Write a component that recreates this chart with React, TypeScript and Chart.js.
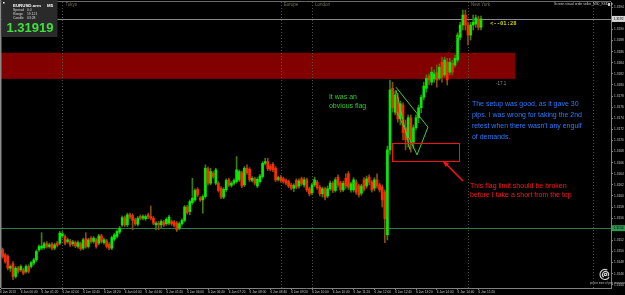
import { useEffect, useRef } from "react";
import { Chart, registerables } from "chart.js";
Chart.register(...registerables);

// ---- data (EURUSD.arm M5) ----
const opens = [
  1.31497,1.31503,1.31494,1.31491,1.31470,1.31478,1.31455,1.31470,1.31467,1.31467,
  1.31464,1.31473,1.31473,1.31479,1.31485,1.31503,1.31506,1.31507,1.31514,1.31509,
  1.31513,1.31506,1.31515,1.31515,1.31528,1.31527,1.31518,1.31519,1.31514,1.31516,
  1.31509,1.31514,1.31506,1.31523,1.31509,1.31524,1.31518,1.31521,1.31515,1.31528,
  1.31516,1.31519,1.31513,1.31506,1.31522,1.31527,1.31535,1.31548,1.31561,1.31548,
  1.31566,1.31565,1.31557,1.31549,1.31563,1.31560,1.31559,1.31566,1.31563,1.31560,
  1.31548,1.31551,1.31548,1.31553,1.31550,1.31551,1.31554,1.31553,1.31551,1.31542,
  1.31550,1.31556,1.31580,1.31572,1.31588,1.31593,1.31612,1.31596,1.31593,1.31599,
  1.31649,1.31623,1.31641,1.31623,1.31623,1.31614,1.31598,1.31611,1.31629,1.31619,
  1.31623,1.31626,1.31629,1.31642,1.31620,1.31650,1.31648,1.31628,1.31631,1.31618,
  1.31626,1.31635,1.31659,1.31662,1.31654,1.31657,1.31650,1.31630,1.31634,1.31631,
  1.31628,1.31626,1.31620,1.31614,1.31628,1.31618,1.31631,1.31620,1.31629,1.31613,
  1.31606,1.31620,1.31625,1.31616,1.31604,1.31613,1.31600,1.31613,1.31623,1.31610,
  1.31634,1.31624,1.31611,1.31632,1.31640,1.31611,1.31611,1.31625,1.31618,1.31605,
  1.31629,1.31618,1.31634,1.31625,1.31614,1.31629,1.31620,1.31616,1.31607,1.31530,
  1.31683,1.31794,1.31751,1.31778,1.31739,1.31764,1.31723,1.31705,1.31741,1.31697,
  1.31723,1.31741,1.31759,1.31778,1.31794,1.31816,1.31805,1.31811,1.31823,1.31812,
  1.31841,1.31818,1.31841,1.31823,1.31839,1.31836,1.31845,1.31886,1.31908,1.31926,
  1.31908,1.31890,1.31908,1.31910,1.31919,1.31904,
];
const highs = [
  1.31512,1.31506,1.31497,1.31494,1.31476,1.31482,1.31473,1.31473,1.31476,1.31470,
  1.31476,1.31476,1.31482,1.31488,1.31503,1.31512,1.31534,1.31517,1.31518,1.31515,
  1.31516,1.31515,1.31518,1.31536,1.31536,1.31530,1.31524,1.31522,1.31520,1.31519,
  1.31519,1.31517,1.31524,1.31534,1.31524,1.31527,1.31527,1.31524,1.31531,1.31531,
  1.31524,1.31522,1.31516,1.31528,1.31533,1.31539,1.31545,1.31564,1.31564,1.31569,
  1.31569,1.31568,1.31560,1.31563,1.31566,1.31566,1.31566,1.31569,1.31582,1.31563,
  1.31554,1.31554,1.31557,1.31556,1.31561,1.31565,1.31557,1.31556,1.31554,1.31553,
  1.31559,1.31583,1.31583,1.31593,1.31632,1.31613,1.31615,1.31599,1.31602,1.31656,
  1.31652,1.31650,1.31644,1.31650,1.31626,1.31617,1.31615,1.31631,1.31632,1.31626,
  1.31631,1.31671,1.31647,1.31645,1.31653,1.31656,1.31651,1.31635,1.31634,1.31633,
  1.31639,1.31662,1.31668,1.31668,1.31657,1.31660,1.31653,1.31636,1.31637,1.31634,
  1.31631,1.31629,1.31623,1.31622,1.31631,1.31631,1.31634,1.31633,1.31632,1.31616,
  1.31623,1.31634,1.31628,1.31619,1.31616,1.31616,1.31618,1.31627,1.31626,1.31633,
  1.31638,1.31627,1.31627,1.31640,1.31644,1.31625,1.31633,1.31629,1.31621,1.31621,
  1.31633,1.31636,1.31638,1.31628,1.31633,1.31640,1.31623,1.31620,1.31611,1.31690,
  1.31809,1.31805,1.31789,1.31785,1.31771,1.31768,1.31737,1.31746,1.31746,1.31728,
  1.31746,1.31764,1.31782,1.31805,1.31818,1.31820,1.31832,1.31827,1.31836,1.31838,
  1.31850,1.31850,1.31848,1.31848,1.31845,1.31854,1.31894,1.31913,1.31935,1.31935,
  1.31913,1.31913,1.31926,1.31926,1.31924,1.31924,
];
const lows = [
  1.31479,1.31488,1.31479,1.31467,1.31464,1.31449,1.31452,1.31461,1.31464,1.31458,
  1.31461,1.31461,1.31470,1.31476,1.31482,1.31500,1.31503,1.31504,1.31506,1.31506,
  1.31503,1.31503,1.31508,1.31512,1.31525,1.31512,1.31515,1.31509,1.31510,1.31507,
  1.31506,1.31502,1.31503,1.31506,1.31506,1.31515,1.31515,1.31506,1.31512,1.31515,
  1.31513,1.31506,1.31503,1.31503,1.31519,1.31524,1.31532,1.31545,1.31545,1.31545,
  1.31559,1.31539,1.31547,1.31546,1.31557,1.31557,1.31556,1.31559,1.31557,1.31548,
  1.31539,1.31539,1.31542,1.31545,1.31547,1.31548,1.31547,1.31544,1.31536,1.31539,
  1.31547,1.31553,1.31567,1.31566,1.31585,1.31590,1.31599,1.31590,1.31569,1.31596,
  1.31620,1.31620,1.31632,1.31620,1.31607,1.31595,1.31595,1.31608,1.31617,1.31616,
  1.31620,1.31623,1.31626,1.31615,1.31617,1.31639,1.31626,1.31625,1.31620,1.31615,
  1.31623,1.31632,1.31656,1.31646,1.31645,1.31644,1.31626,1.31627,1.31625,1.31623,
  1.31620,1.31615,1.31611,1.31608,1.31613,1.31614,1.31619,1.31616,1.31608,1.31600,
  1.31602,1.31617,1.31612,1.31600,1.31598,1.31593,1.31597,1.31610,1.31606,1.31607,
  1.31616,1.31607,1.31608,1.31614,1.31612,1.31607,1.31607,1.31603,1.31598,1.31601,
  1.31609,1.31614,1.31620,1.31607,1.31609,1.31614,1.31607,1.31580,1.31516,1.31521,
  1.31675,1.31751,1.31746,1.31733,1.31728,1.31701,1.31683,1.31688,1.31679,1.31686,
  1.31719,1.31732,1.31750,1.31773,1.31787,1.31800,1.31800,1.31805,1.31796,1.31809,
  1.31805,1.31814,1.31800,1.31818,1.31818,1.31832,1.31841,1.31881,1.31899,1.31899,
  1.31872,1.31881,1.31899,1.31904,1.31899,1.31899,
];
const closes = [
  1.31509,1.31491,1.31482,1.31470,1.31473,1.31455,1.31470,1.31464,1.31473,1.31461,
  1.31473,1.31464,1.31480,1.31485,1.31500,1.31509,1.31510,1.31514,1.31509,1.31512,
  1.31506,1.31512,1.31511,1.31533,1.31532,1.31515,1.31521,1.31512,1.31517,1.31510,
  1.31516,1.31505,1.31521,1.31509,1.31521,1.31518,1.31524,1.31509,1.31528,1.31518,
  1.31521,1.31509,1.31506,1.31525,1.31530,1.31536,1.31542,1.31561,1.31548,1.31566,
  1.31562,1.31556,1.31550,1.31560,1.31560,1.31563,1.31563,1.31562,1.31560,1.31551,
  1.31551,1.31548,1.31554,1.31548,1.31558,1.31562,1.31550,1.31547,1.31539,1.31550,
  1.31556,1.31580,1.31570,1.31590,1.31596,1.31610,1.31602,1.31593,1.31599,1.31650,
  1.31623,1.31644,1.31635,1.31647,1.31610,1.31598,1.31612,1.31628,1.31620,1.31623,
  1.31628,1.31647,1.31644,1.31618,1.31650,1.31642,1.31629,1.31632,1.31623,1.31630,
  1.31636,1.31659,1.31662,1.31649,1.31648,1.31647,1.31629,1.31633,1.31628,1.31626,
  1.31623,1.31618,1.31614,1.31619,1.31616,1.31627,1.31622,1.31629,1.31611,1.31604,
  1.31620,1.31629,1.31615,1.31604,1.31613,1.31598,1.31613,1.31623,1.31610,1.31629,
  1.31620,1.31611,1.31623,1.31618,1.31616,1.31622,1.31629,1.31607,1.31602,1.31618,
  1.31612,1.31631,1.31625,1.31611,1.31629,1.31618,1.31611,1.31593,1.31559,1.31683,
  1.31791,1.31759,1.31782,1.31739,1.31766,1.31714,1.31701,1.31741,1.31697,1.31723,
  1.31741,1.31759,1.31778,1.31798,1.31812,1.31809,1.31823,1.31820,1.31809,1.31832,
  1.31814,1.31845,1.31809,1.31841,1.31823,1.31848,1.31890,1.31908,1.31926,1.31908,
  1.31890,1.31908,1.31913,1.31921,1.31904,1.31919,
];

const priceTicks = [
  1.3194,1.3192,1.3190,1.3188,1.3186,1.3184,1.3182,1.3180,1.3178,1.3176,1.3174,1.3172,1.3170,
  1.3168,1.3166,1.3164,1.3162,1.3160,1.3158,1.3156,1.3154,1.3152,1.3150,1.3148,1.3146,1.3144,
];
const timeTickIndex = [0,8,16,24,32,40,48,56,64,72,80,88,96,104,112,120,128,136,144,152,160,168,176,184];
const timeTickLabels = [
  "6 Jan 2013","6 Jan 00:40","6 Jan 01:20","6 Jan 02:00","6 Jan 02:40","6 Jan 03:20",
  "6 Jan 04:00","6 Jan 04:40","6 Jan 05:20","6 Jan 06:00","6 Jan 06:40","6 Jan 07:20",
  "6 Jan 08:00","6 Jan 08:40","6 Jan 09:20","6 Jan 10:00","6 Jan 10:40","6 Jan 11:20",
  "6 Jan 12:00","6 Jan 12:40","6 Jan 13:20","6 Jan 14:00","6 Jan 14:40","6 Jan 15:20",
];
const sessionIndex = [24, 108, 120, 180, 228];
const sessionNames = ["Tokyo", "Europe", "London", "New York", ""];

const bidPrice = 1.31919;
const levelPrice = 1.31542;

// annotations in data coordinates (candle index, price)
const zoneTop = 1.31858;
const zoneBottom = 1.31811;
const zoneEnd = 198.1;
const flagLines = [
  [152.3, 1.31796, 164.6, 1.31724],
  [152.3, 1.31791, 157.7, 1.31683],
  [152.7, 1.31751, 160.4, 1.31674],
  [160.4, 1.31674, 164.6, 1.31724],
];
const limitBox = [150.8, 1.31695, 176.5, 1.31663];
const arrowLine = [178.1, 1.31627, 170.4, 1.31663];
const trendDots = [171.9, 1.31854, 176.9, 1.31894];

const greenNote = ["It was an", "obvious flag"];
const blueNote = [
  "The setup was good, as it gave 30",
  "pips. I was wrong for taking the 2nd",
  "retest when there wasn't any engulf",
  "of demands.",
];
const redNote = ["This flag limit should be broken", "before I take a short from the top"];

const X_MIN = 0.3846;
const X_MAX = 235.0;
const Y_MIN = 1.314342;
const Y_MAX = 1.319495;

const BULL = "#00ee00";
const BEAR = "#ff2a00";
const BULL_WICK = "#3d7d10";
const BEAR_WICK = "#8a4a14";
const FONT = "'Liberation Sans', Arial, sans-serif";

const overlay = {
  id: "overlay",
  beforeDatasetsDraw(chart: any) {
    const { ctx, chartArea: a } = chart;
    const X = (v: number) => chart.scales.x.getPixelForValue(v);
    const Y = (v: number) => chart.scales.y.getPixelForValue(v);
    ctx.save();
    // supply zone
    ctx.fillStyle = "#820000";
    const zt = Y(zoneTop), zb = Y(zoneBottom);
    ctx.fillRect(a.left, zt, X(zoneEnd) - a.left, zb - zt);
    // session separators
    ctx.strokeStyle = "#4b5540";
    ctx.lineWidth = 1;
    ctx.setLineDash([1, 2]);
    sessionIndex.forEach((i) => {
      const x = Math.round(X(i)) + 0.5;
      ctx.beginPath();
      ctx.moveTo(x, a.top);
      ctx.lineTo(x, a.bottom);
      ctx.stroke();
    });
    ctx.setLineDash([]);
    // bid line
    let y = Math.round(Y(bidPrice)) + 0.5;
    ctx.strokeStyle = "#8a8a8a";
    ctx.beginPath();
    ctx.moveTo(a.left, y);
    ctx.lineTo(a.right, y);
    ctx.stroke();
    // level line
    y = Math.round(Y(levelPrice)) + 0.5;
    ctx.strokeStyle = "#2b7d48";
    ctx.beginPath();
    ctx.moveTo(a.left, y);
    ctx.lineTo(a.right, y);
    ctx.stroke();
    ctx.restore();
  },
  afterDatasetsDraw(chart: any) {
    const { ctx } = chart;
    const X = (v: number) => chart.scales.x.getPixelForValue(v);
    const Y = (v: number) => chart.scales.y.getPixelForValue(v);
    ctx.save();
    // flag lines
    ctx.strokeStyle = "#3ad03a";
    ctx.lineWidth = 1;
    flagLines.forEach(([x0, p0, x1, p1]) => {
      ctx.beginPath();
      ctx.moveTo(X(x0), Y(p0));
      ctx.lineTo(X(x1), Y(p1));
      ctx.stroke();
    });
    // trend dots
    ctx.strokeStyle = "#b00000";
    ctx.setLineDash([1, 1.5]);
    ctx.beginPath();
    ctx.moveTo(X(trendDots[0]), Y(trendDots[1]));
    ctx.lineTo(X(trendDots[2]), Y(trendDots[3]));
    ctx.stroke();
    ctx.setLineDash([]);
    // limit box
    ctx.strokeStyle = "#ff1010";
    ctx.lineWidth = 1;
    const bx0 = Math.round(X(limitBox[0])) + 0.5, by0 = Math.round(Y(limitBox[1])) + 0.5;
    const bx1 = Math.round(X(limitBox[2])) + 0.5, by1 = Math.round(Y(limitBox[3])) + 0.5;
    ctx.strokeRect(bx0, by0, bx1 - bx0, by1 - by0);
    // arrow
    const ax0 = X(arrowLine[0]), ay0 = Y(arrowLine[1]);
    const ax1 = X(arrowLine[2]), ay1 = Y(arrowLine[3]);
    ctx.strokeStyle = "#ff1010";
    ctx.lineWidth = 1.5;
    ctx.beginPath();
    ctx.moveTo(ax0, ay0);
    ctx.lineTo(ax1, ay1);
    ctx.stroke();
    const ang = Math.atan2(ay1 - ay0, ax1 - ax0);
    ctx.fillStyle = "#ff1010";
    ctx.beginPath();
    ctx.moveTo(ax1, ay1);
    ctx.lineTo(ax1 - 6 * Math.cos(ang) + 2.5 * Math.sin(ang), ay1 - 6 * Math.sin(ang) - 2.5 * Math.cos(ang));
    ctx.lineTo(ax1 - 6 * Math.cos(ang) - 2.5 * Math.sin(ang), ay1 - 6 * Math.sin(ang) + 2.5 * Math.cos(ang));
    ctx.closePath();
    ctx.fill();
    // notes
    ctx.textBaseline = "middle";
    ctx.textAlign = "left";
    ctx.font = `7px ${FONT}`;
    ctx.fillStyle = "#33cc33";
    const gp = [1.31778, 1.31762];
    greenNote.forEach((t, k) => ctx.fillText(t, X(126.5), Y(gp[k])));
    ctx.fillStyle = "#2a7bff";
    const bp = [1.31766, 1.31746, 1.31726, 1.31706];
    blueNote.forEach((t, k) => ctx.fillText(t, X(181.5), Y(bp[k])));
    ctx.fillStyle = "#ff1a1a";
    const rp = [1.31618, 1.31602];
    redNote.forEach((t, k) => ctx.fillText(t, X(180.8), Y(rp[k])));
    // timer
    ctx.font = `bold 5.5px 'DejaVu Sans Mono', monospace`;
    ctx.fillStyle = "#c8c800";
    ctx.fillText("<--01:28", X(188.5), Y(1.31911));
    ctx.font = `4.5px ${FONT}`;
    ctx.fillStyle = "#8c8c8c";
    ctx.fillText("-17.1", X(190.8), Y(1.31803));
    ctx.restore();
  },
  afterDraw(chart: any) {
    const { ctx, chartArea: a } = chart;
    const X = (v: number) => chart.scales.x.getPixelForValue(v);
    const Y = (v: number) => chart.scales.y.getPixelForValue(v);
    ctx.save();
    // frame
    ctx.fillStyle = "#8a8a8a";
    ctx.fillRect(0, 0, 1.5, a.bottom);
    ctx.strokeStyle = "#6a6a6a";
    ctx.lineWidth = 1;
    ctx.beginPath();
    ctx.moveTo(0, 1.5);
    ctx.lineTo(a.right, 1.5);
    ctx.stroke();
    // session labels
    ctx.font = `4.5px ${FONT}`;
    ctx.textBaseline = "middle";
    ctx.textAlign = "left";
    ctx.fillStyle = "#70705c";
    sessionIndex.forEach((i, k) => {
      if (sessionNames[k]) ctx.fillText(sessionNames[k], X(i) + 3, a.top + 3);
    });
    // top-right caption
    ctx.font = `3.3px ${FONT}`;
    ctx.fillStyle = "#c8c8c8";
    ctx.fillText("Screen visual order seller_M30_SSID_w", 554, 4.5);
    ctx.fillRect(608, 3, 2, 3);
    // price boxes on the axis
    const box = (p: number, fill: string, txt: string) => {
      const y = Y(p);
      ctx.fillStyle = fill;
      ctx.fillRect(a.right + 1, y - 3, 14, 6);
      ctx.fillStyle = "#000";
      ctx.font = `3.3px ${FONT}`;
      ctx.fillText(txt, a.right + 2.5, y);
    };
    box(bidPrice, "#d8d8d8", bidPrice.toFixed(4));
    box(levelPrice, "#2f9a4f", levelPrice.toFixed(4));
    // info panel
    ctx.fillStyle = "#2a2a2a";
    ctx.fillRect(1.5, 0, 56, 37);
    ctx.fillStyle = "#ffffff";
    ctx.font = `bold 4.4px ${FONT}`;
    ctx.fillText("EURUSD.arm", 13, 5.5);
    ctx.fillText("M5", 47, 5.5);
    ctx.font = `3.4px ${FONT}`;
    ctx.fillStyle = "#d8d8d8";
    ctx.fillText("Spread", 13, 10.5);
    ctx.fillText("0.0", 27, 10.5);
    ctx.fillText("Range", 13, 14.5);
    ctx.fillText("19.121", 27, 14.5);
    ctx.fillText("Candle", 13, 18);
    ctx.fillText("03:28", 27, 18);
    ctx.font = `bold 13px ${FONT}`;
    ctx.fillStyle = "#3ee03e";
    ctx.textBaseline = "alphabetic";
    ctx.fillText(bidPrice.toFixed(5), 6.5, 31.5);
    ctx.fillStyle = "#ffffff";
    ctx.fillRect(3, 2, 1.5, 1.5);
    // watermark
    ctx.strokeStyle = "#d0d0d0";
    ctx.lineWidth = 1.2;
    ctx.beginPath();
    ctx.arc(605, 274.5, 5, 0.6, 5.2);
    ctx.stroke();
    ctx.beginPath();
    ctx.arc(605.5, 274.5, 3, 2.2, 7.0);
    ctx.stroke();
    ctx.beginPath();
    ctx.arc(605.5, 274.5, 1.2, 0, 6.28);
    ctx.stroke();
    ctx.font = `2.6px ${FONT}`;
    ctx.fillStyle = "#bbbbbb";
    ctx.textBaseline = "middle";
    ctx.fillText("protect more of your memories", 590, 283.5);
    ctx.restore();
  },
};

export default function App() {
  const ref = useRef<HTMLCanvasElement>(null);
  useEffect(() => {
    document.body.style.margin = "0";
    document.body.style.background = "#000";
    const bull = (i: number) => closes[i] >= opens[i];
    const bodies = opens.map((o, i) => ({ x: i, y: [o, closes[i]] }));
    const wicks = lows.map((l, i) => ({ x: i, y: [l, highs[i]] }));
    const chart = new Chart(ref.current as HTMLCanvasElement, {
      type: "bar",
      data: {
        datasets: [
          {
            label: "body",
            data: bodies as any,
            backgroundColor: (c: any) => (bull(c.dataIndex) ? BULL : BEAR),
            barThickness: 2,
            grouped: false,
            minBarLength: 1,
            borderWidth: 0,
          } as any,
          {
            label: "wick",
            data: wicks as any,
            backgroundColor: (c: any) => (bull(c.dataIndex) ? BULL_WICK : BEAR_WICK),
            barThickness: 1,
            grouped: false,
            borderWidth: 0,
          } as any,
        ],
      },
      options: {
        responsive: false,
        animation: false,
        devicePixelRatio: 1,
        layout: { padding: { left: 1, top: 2, right: 0, bottom: 0 } },
        plugins: { legend: { display: false }, tooltip: { enabled: false } },
        font: { family: FONT },
        scales: {
          x: {
            type: "linear",
            min: X_MIN,
            max: X_MAX,
            offset: false,
            afterBuildTicks: (s: any) => {
              s.ticks = timeTickIndex.map((v) => ({ value: v }));
            },
            afterFit: (s: any) => {
              s.height = 7;
              s.paddingLeft = 0;
              s.paddingRight = 0;
            },
            ticks: {
              autoSkip: false,
              maxRotation: 0,
              minRotation: 0,
              align: "start",
              padding: 0,
              color: "#c4c4c4",
              font: { size: 3.2, family: FONT },
              callback: (_v: any, idx: number) => timeTickLabels[idx] ?? "",
            },
            grid: { display: true, drawOnChartArea: false, drawTicks: true, tickLength: 2, color: "#808080", offset: false },
            border: { display: true, color: "#808080" },
          },
          y: {
            type: "linear",
            position: "right",
            min: Y_MIN,
            max: Y_MAX,
            afterBuildTicks: (s: any) => {
              s.ticks = priceTicks.map((v) => ({ value: v }));
            },
            afterFit: (s: any) => {
              s.width = 14;
              s.paddingTop = 0;
              s.paddingBottom = 0;
            },
            ticks: {
              padding: 1,
              color: "#c4c4c4",
              font: { size: 3.2, family: FONT },
              callback: (v: any) => Number(v).toFixed(4),
            },
            grid: { display: true, drawOnChartArea: false, drawTicks: true, tickLength: 2, color: "#808080" },
            border: { display: true, color: "#808080" },
          },
        },
      } as any,
      plugins: [overlay],
    });
    return () => chart.destroy();
  }, []);
  return (
    <div style={{ position: "fixed", left: 0, top: 0, width: 625, height: 295, background: "#000" }}>
      <canvas ref={ref} width={625} height={295} style={{ display: "block", width: 625, height: 295 }} />
    </div>
  );
}
